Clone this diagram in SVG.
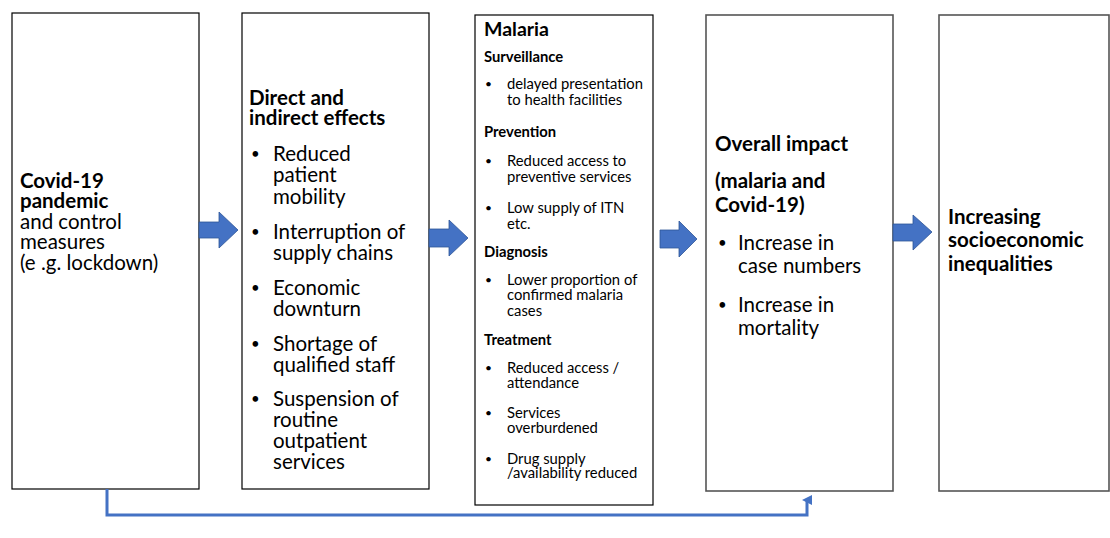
<svg xmlns="http://www.w3.org/2000/svg" width="1110" height="538" viewBox="0 0 1110 538">
<style>
.box{fill:#fff;stroke:#000;stroke-width:1.2}
.box2{fill:#fff;stroke:#555;stroke-width:1.6}
text{font-family:Lato,"Liberation Sans",sans-serif;fill:#000}
.b{font-weight:bold}
.t1{font-size:20.5px}
.t2{font-size:20.5px}
.t3{font-size:14.8px}
.t4{font-size:20.5px}
.bl{font-size:15px}
.bl3{font-size:12px}
.arr{fill:#4472C4;stroke:#2F5597;stroke-width:0.8}
.ln{fill:none;stroke:#4472C4;stroke-width:3}
</style>
<defs>
<marker id="up" markerWidth="10" markerHeight="10" refX="5" refY="5" orient="auto" markerUnits="userSpaceOnUse" viewBox="0 0 10 10">
<path d="M0,10 L5,0 L10,10 Z" fill="#4472C4"/>
</marker>
</defs>
<g id="n1">
<rect class="box" x="12" y="13" width="187" height="476"/>
<text class="t1" x="20"><tspan class="b" x="20" y="188">Covid-19</tspan><tspan class="b" x="20" y="208">pandemic</tspan><tspan x="20" y="229">and control</tspan><tspan x="20" y="249">measures</tspan><tspan x="20" y="270">(e .g. lockdown)</tspan></text>
</g>
<g id="n2">
<rect class="box" x="242" y="13" width="187" height="476"/>
<text class="t2 b" x="249" y="105">Direct and</text>
<text class="t2 b" x="249" y="125">indirect effects</text>
<g class="t2">
<text class="bl" x="251" y="159">•</text><text x="273" y="161">Reduced</text><text x="273" y="182">patient</text><text x="273" y="204">mobility</text>
<text class="bl" x="251" y="237">•</text><text x="273" y="239">Interruption of</text><text x="273" y="260">supply chains</text>
<text class="bl" x="251" y="293">•</text><text x="273" y="295">Economic</text><text x="273" y="316">downturn</text>
<text class="bl" x="251" y="349">•</text><text x="273" y="351">Shortage of</text><text x="273" y="372">qualified staff</text>
<text class="bl" x="251" y="404">•</text><text x="273" y="406">Suspension of</text><text x="273" y="427">routine</text><text x="273" y="448">outpatient</text><text x="273" y="469">services</text>
</g>
</g>
<g id="n3">
<rect class="box" x="475" y="15" width="178" height="490"/>
<text class="b" style="font-size:19.5px" x="484" y="36">Malaria</text>
<g class="t3">
<text class="b" x="484" y="62">Surveillance</text>
<text class="bl3" x="485" y="88">•</text><text x="507" y="89">delayed presentation</text><text x="507" y="105">to health facilities</text>
<text class="b" x="484" y="137">Prevention</text>
<text class="bl3" x="485" y="165">•</text><text x="507" y="166">Reduced access to</text><text x="507" y="182">preventive services</text>
<text class="bl3" x="485" y="212">•</text><text x="507" y="213">Low supply of ITN</text><text x="507" y="229">etc.</text>
<text class="b" x="484" y="257">Diagnosis</text>
<text class="bl3" x="485" y="284">•</text><text x="507" y="285">Lower proportion of</text><text x="507" y="300">confirmed malaria</text><text x="507" y="316">cases</text>
<text class="b" x="484" y="345">Treatment</text>
<text class="bl3" x="485" y="372">•</text><text x="507" y="373">Reduced access /</text><text x="507" y="388">attendance</text>
<text class="bl3" x="485" y="417">•</text><text x="507" y="418">Services</text><text x="507" y="433">overburdened</text>
<text class="bl3" x="485" y="463">•</text><text x="507" y="464">Drug supply</text><text x="507" y="478">/availability reduced</text>
</g>
</g>
<g id="n4">
<rect class="box2" x="706" y="15" width="187" height="476"/>
<g class="t4">
<text class="b" x="715" y="151">Overall impact</text>
<text class="b" x="715" y="188">(malaria and</text>
<text class="b" x="715" y="212">Covid-19)</text>
<text class="bl" x="718" y="248">•</text><text x="738" y="250">Increase in</text><text x="738" y="273">case numbers</text>
<text class="bl" x="718" y="310">•</text><text x="738" y="312">Increase in</text><text x="738" y="335">mortality</text>
</g>
</g>
<g id="n5">
<rect class="box2" x="939" y="15" width="170" height="476"/>
<g class="t4 b">
<text x="948" y="224">Increasing</text>
<text x="948" y="247">socioeconomic</text>
<text x="948" y="271">inequalities</text>
</g>
</g>
<g id="connectors">
<path class="arr" d="M199,222 H219 V212 L238,230 L219,248 V238 H199 Z"/>
<path class="arr" d="M429,229 H449 V220 L468,238 L449,256 V247 H429 Z"/>
<path class="arr" d="M660,230 H679 V221 L697,239 L679,257 V248 H660 Z"/>
<path class="arr" d="M893,224 H913 V215 L932,232 L913,250 V241 H893 Z"/>
<path class="ln" d="M107,489 V515 H807 V500" marker-end="url(#up)"/>
</g>
</svg>
